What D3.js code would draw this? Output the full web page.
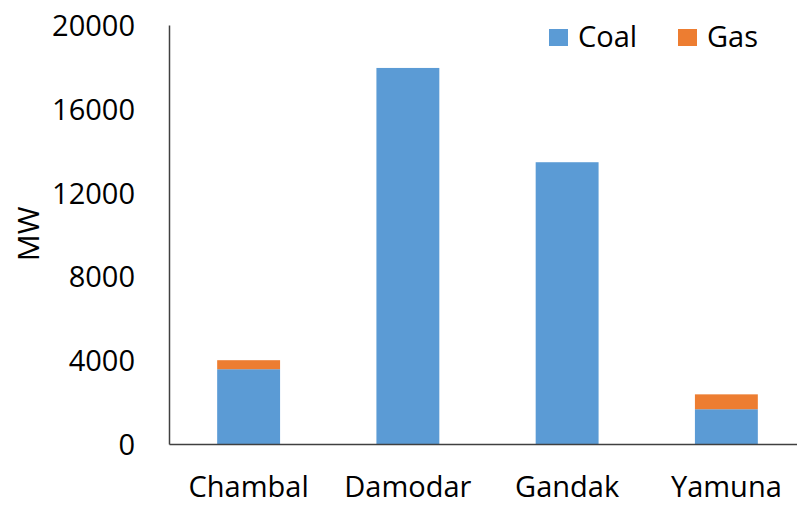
<!DOCTYPE html>
<html><head><meta charset="utf-8">
<script src="https://cdn.jsdelivr.net/npm/d3@7/dist/d3.min.js"></script>
<style>body{margin:0;background:#fff;} text{font-family:"Open Sans",sans-serif;fill:#000;}</style>
</head><body>
<svg id="c" width="797" height="507"></svg>
<script>
const categories = ["Chambal","Damodar","Gandak","Yamuna"];
const coal = [3570, 17950, 13450, 1660];
const gas = [430, 0, 0, 710];
const seriesNames = ["Coal","Gas"];
const colors = ["#5B9BD5","#ED7D31"];
const yTicks = [0,4000,8000,12000,16000,20000];

const svg = d3.select("#c");
const x0 = 169, x1 = 806, yBase = 444, yTop = 25;
const x = d3.scaleBand().domain(categories).range([x0, x1]).paddingInner(0.605).paddingOuter(0.3025);
const y = d3.scaleLinear().domain([0,20000]).range([yBase, yTop]);

const rows = categories.map((c,i)=>({cat:c, Coal:coal[i], Gas:gas[i]}));
const stacked = d3.stack().keys(seriesNames)(rows);

svg.selectAll("g.s").data(stacked).join("g").attr("class","s")
  .attr("fill",(d,i)=>colors[i])
  .selectAll("rect").data(d=>d).join("rect")
  .attr("x",d=>x(d.data.cat)).attr("width",x.bandwidth())
  .attr("y",d=>y(d[1])).attr("height",d=>y(d[0])-y(d[1]));

// y axis
const ya = svg.append("g").attr("transform",`translate(${x0},0)`)
  .call(d3.axisLeft(y).tickValues(yTicks).tickSize(0).tickPadding(34).tickFormat(d3.format("d")));
ya.select(".domain").attr("stroke","#404040").attr("stroke-width",1.5);
ya.selectAll("text").attr("font-size",29).attr("font-family","Open Sans, sans-serif").attr("dy","0.36em");

// x axis
const xa = svg.append("g").attr("transform",`translate(0,${yBase})`)
  .call(d3.axisBottom(x).tickSize(0));
xa.select(".domain").attr("stroke","#404040").attr("stroke-width",1.5);
xa.selectAll("text").attr("font-size",29).attr("font-family","Open Sans, sans-serif").attr("y",53).attr("dy",0);

// y label
svg.append("text").attr("transform","translate(39,234) rotate(-90)")
  .attr("text-anchor","middle").attr("font-size",30).text("MW");

// legend
const leg = [{n:"Coal",x:549},{n:"Gas",x:678}];
leg.forEach((l,i)=>{
  svg.append("rect").attr("x",l.x).attr("y",29).attr("width",19).attr("height",17).attr("fill",colors[i]);
  svg.append("text").attr("x",l.x+29).attr("y",47).attr("font-size",29).text(l.n);
});
</script>
</body></html>
